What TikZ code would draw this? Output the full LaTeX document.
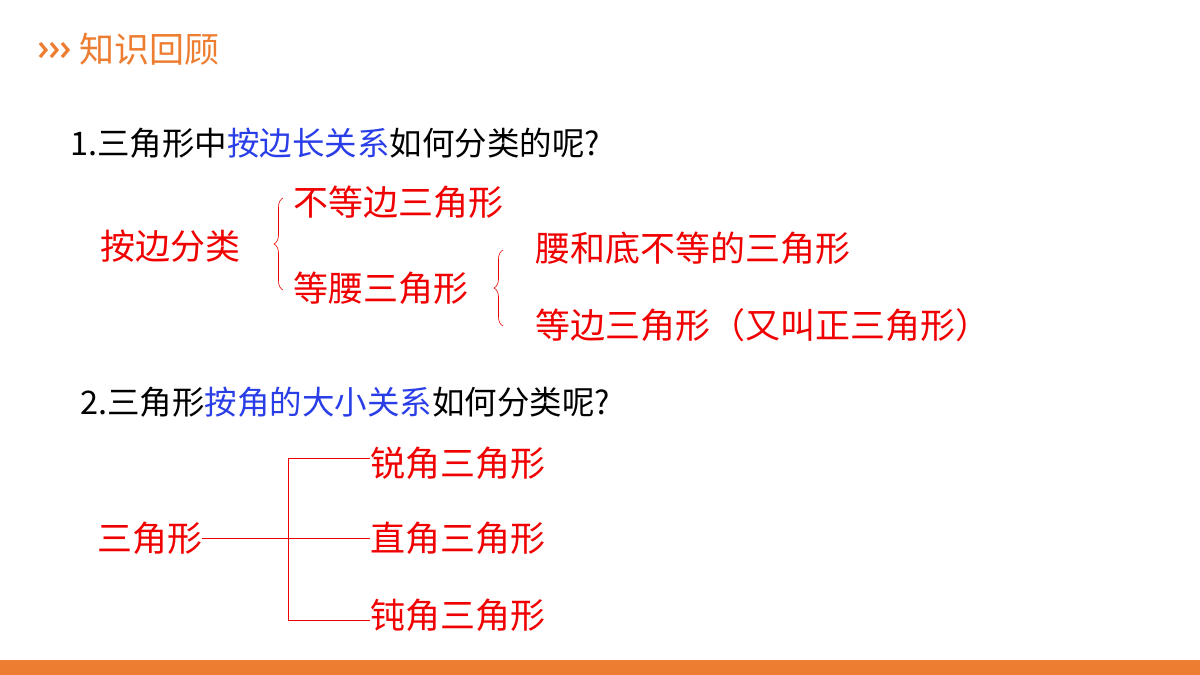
\documentclass[tikz,border=0pt]{standalone}
\usepackage{fontspec}
\setmainfont{Noto Sans CJK SC}
\usetikzlibrary{decorations.pathreplacing}
\definecolor{myorange}{HTML}{ED7D31}
\definecolor{myred}{HTML}{F00000}
\definecolor{myblue}{HTML}{2A3EE8}
\begin{document}
\begin{tikzpicture}[x=1pt,y=-1pt,
  q/.style={anchor=west,inner sep=0pt,font=\fontsize{32.5}{35}\selectfont},
  r/.style={anchor=west,inner sep=0pt,text=myred,font=\fontsize{35}{38}\selectfont},
  br/.style={draw=myred,decorate,decoration={brace,amplitude=9pt},line width=0.6pt},
  ln/.style={draw=myred,line width=0.6pt},
  chev/.style={draw=myorange,line width=3.2pt}]
\useasboundingbox (0,0) rectangle (1200,675);
\fill[myorange] (0,660) rectangle (1200,675);
\foreach \i in {0,1,2} \draw[chev] (40+11*\i,43) -- (46+11*\i,50) -- (40+11*\i,57);
\node[anchor=west,inner sep=0pt,text=myorange,font=\fontsize{35}{38}\selectfont] (title) at (79,49) {知识回顾};
\node[q] (q1) at (70,143) {1.三角形中\textcolor{myblue}{按边长关系}如何分类的呢?};
\node[r] (a) at (100,246) {按边分类};
\node[r] (a1) at (293,202) {不等边三角形};
\node[r] (a2) at (293,288) {等腰三角形};
\node[r] (a21) at (535,248) {腰和底不等的三角形};
\node[r] (a22) at (535,325) {等边三角形（又叫正三角形）};
\draw[br] (283,290) -- (283,198);
\draw[br] (503,326) -- (503,250);
\node[q] (q2) at (80,402) {2.三角形\textcolor{myblue}{按角的大小关系}如何分类呢?};
\node[r] (b) at (97,538) {三角形};
\node[r] (b1) at (370,463) {锐角三角形};
\node[r] (b2) at (370,538) {直角三角形};
\node[r] (b3) at (370,615) {钝角三角形};
\coordinate (t) at (288,458);
\coordinate (d) at (288,620);
\draw[ln] (b.east) -- (b2.west);
\draw[ln] (b1.west|-t) -- (t) -- (d) -- (b3.west|-d);
\end{tikzpicture}
\end{document}
